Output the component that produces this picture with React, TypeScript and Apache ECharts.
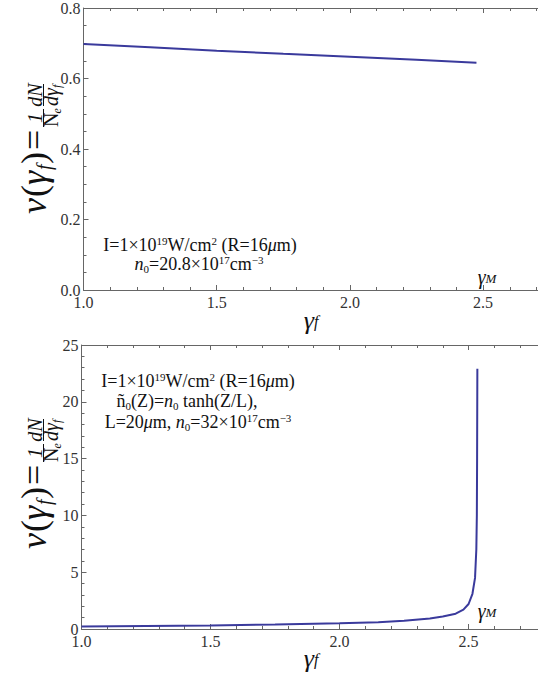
import React, { useEffect, useRef } from 'react';
import * as echarts from 'echarts';

// ---- data ----
const topGamma = [1.0, 1.25, 1.5, 1.75, 2.0, 2.25, 2.475];
const topNu = [0.698, 0.689, 0.679, 0.670, 0.662, 0.653, 0.645];
const botGamma = [1.0, 1.25, 1.5, 1.75, 2.0, 2.15, 2.25, 2.35, 2.4, 2.45, 2.48, 2.5, 2.515, 2.525, 2.53, 2.532, 2.533, 2.534];
const botNu = [0.22, 0.26, 0.31, 0.39, 0.5, 0.6, 0.72, 0.92, 1.1, 1.35, 1.7, 2.2, 3.1, 4.5, 7.0, 10, 15, 22.9];
const topXRange = [1.0, 2.706];
const botXRange = [1.0, 2.769];
const xMajor = 0.5;
const xMinor = 0.1;
const topYRange = [0, 0.8];
const topYStep = 0.2;
const botYRange = [0, 25];
const botYStep = 5;

const FONT = 'Liberation Serif';
const AXIS = '#666';
const LINE = '#3a3a9c';
const TXT = '#111';

function xAxis(gridIndex: number, range: number[], top: boolean, minor: boolean) {
  return {
    type: 'value', gridIndex, min: range[0], max: range[1], interval: minor ? xMinor : xMajor,
    position: top ? 'top' : 'bottom',
    axisLine: { show: !minor, onZero: false, lineStyle: { color: AXIS, width: 1 } },
    axisTick: { show: true, inside: true, length: minor ? 3 : 5, lineStyle: { color: AXIS } },
    splitLine: { show: false },
    axisLabel: { show: !top && !minor, fontFamily: FONT, fontSize: 16, color: '#333', margin: 4,
      showMaxLabel: false, formatter: (v: number) => v.toFixed(1) },
  };
}
function yAxis(gridIndex: number, range: number[], step: number, minor: number, dec: number) {
  return {
    type: 'value', gridIndex, min: range[0], max: range[1], interval: step,
    axisLine: { show: true, onZero: false, lineStyle: { color: AXIS, width: 1 } },
    axisTick: { show: true, inside: true, length: 5, lineStyle: { color: AXIS } },
    minorTick: { show: true, splitNumber: minor, length: 3, lineStyle: { color: AXIS } },
    splitLine: { show: false }, minorSplitLine: { show: false },
    axisLabel: { fontFamily: FONT, fontSize: 16, color: '#333', margin: 3,
      formatter: (v: number) => v.toFixed(dec) },
  };
}

function yLabel(x0: number, y0: number) {
  const t = (text: string, u: number, v: number, size: number, italic = false, align = 'left') => ({
    type: 'text',
    style: {
      text, x: u, y: v - 0.34 * size,
      font: `${italic ? 'italic ' : ''}${size}px ${FONT}`,
      fill: TXT, textAlign: align, textVerticalAlign: 'middle',
    },
  });
  const bar = (u1: number, u2: number, v: number) => ({
    type: 'line', shape: { x1: u1, y1: v, x2: u2, y2: v }, style: { stroke: TXT, lineWidth: 1 },
  });
  return {
    type: 'group', x: x0, y: y0, rotation: Math.PI / 2,
    children: [
      t('ν', 0, 0, 36, true), t('(', 17, 0, 36), t('γ', 29, 0, 36, true), t('f', 44, 5, 20, true),
      t(')', 50, 0, 36), t('=', 64, 0, 36),
      t('1', 96, -4, 20, true, 'center'), bar(87, 105, -2.5), t('N', 87, 12, 20), t('e', 100.5, 15, 12, true),
      t('dN', 119, -4, 20, true, 'center'), bar(108, 130, -2.5), t('d', 108, 12, 20, true),
      t('γ', 118, 12, 20, true), t('f', 126, 15, 12, true),
    ],
  };
}

const base = { fontFamily: FONT, fontWeight: 'normal', color: TXT };
const rich = {
  n: { ...base, fontSize: 18, lineHeight: 20 },
  i: { ...base, fontSize: 18, fontStyle: 'italic', lineHeight: 20 },
  sup: { ...base, fontSize: 11, lineHeight: 12, verticalAlign: 'top' },
  sub: { ...base, fontSize: 11, lineHeight: 8, verticalAlign: 'bottom' },
  g: { ...base, fontSize: 20, fontStyle: 'italic', lineHeight: 16 },
  s: { ...base, fontSize: 13, fontStyle: 'italic', lineHeight: 8, verticalAlign: 'bottom' },
  gx: { ...base, fontSize: 26, fontStyle: 'italic', lineHeight: 18 },
  sx: { ...base, fontSize: 16, fontStyle: 'italic', lineHeight: 8, verticalAlign: 'bottom' },
};
const ttl = (text: string, left: number, top: number) => ({
  text, left, top, textAlign: 'center', padding: 0,
  textStyle: { fontFamily: FONT, fontWeight: 'normal', fontSize: 18, color: TXT, rich },
});

const line1 = '{n|I=1×10}{sup|19}{n|W/cm}{sup|2}{n| (R=16}{i|μ}{n|m)}';

export default function App() {
  const ref = useRef<HTMLDivElement>(null);
  useEffect(() => {
    const chart = echarts.init(ref.current!, null, { renderer: 'svg' });
    chart.setOption({
      animation: false,
      backgroundColor: '#fff',
      grid: [
        { left: 83.5, top: 8, height: 282, right: 0 },
        { left: 81.5, top: 345, height: 284, right: 0 },
      ],
      xAxis: [
        xAxis(0, topXRange, false, false), xAxis(0, topXRange, false, true),
        xAxis(0, topXRange, true, false), xAxis(0, topXRange, true, true),
        xAxis(1, botXRange, false, false), xAxis(1, botXRange, false, true),
        xAxis(1, botXRange, true, false), xAxis(1, botXRange, true, true),
      ],
      yAxis: [yAxis(0, topYRange, topYStep, 4, 1), yAxis(1, botYRange, botYStep, 5, 0)],
      series: [
        { type: 'line', xAxisIndex: 0, yAxisIndex: 0, showSymbol: false, silent: true,
          data: topGamma.map((g, i) => [g, topNu[i]]), lineStyle: { color: LINE, width: 2 } },
        { type: 'line', xAxisIndex: 4, yAxisIndex: 1, showSymbol: false, silent: true,
          data: botGamma.map((g, i) => [g, botNu[i]]), lineStyle: { color: LINE, width: 2 } },
      ],
      title: [
        ttl(line1, 200, 235),
        ttl('{i|n}{sub|0}{n|=20.8×10}{sup|17}{n|cm}{sup|−3}', 199, 254),
        ttl(line1, 198, 371),
        ttl('{n|ñ}{sub|0}{n|(Z)=}{i|n}{sub|0}{n| tanh(Z/L),}', 187, 391),
        ttl('{n|L=20}{i|μ}{n|m, }{i|n}{sub|0}{n|=32×10}{sup|17}{n|cm}{sup|−3}', 198, 412),
        ttl('{g|γ}{s|M}', 487, 269),
        ttl('{g|γ}{s|M}', 487, 603),
        ttl('{gx|γ}{sx|f}', 311, 311),
        ttl('{gx|γ}{sx|f}', 311, 649),
      ],
      graphic: [yLabel(46, 214), yLabel(46, 549)],
    });
    return () => chart.dispose();
  }, []);
  return <div ref={ref} style={{ position: 'absolute', left: 0, top: 0, width: 538, height: 683 }} />;
}
